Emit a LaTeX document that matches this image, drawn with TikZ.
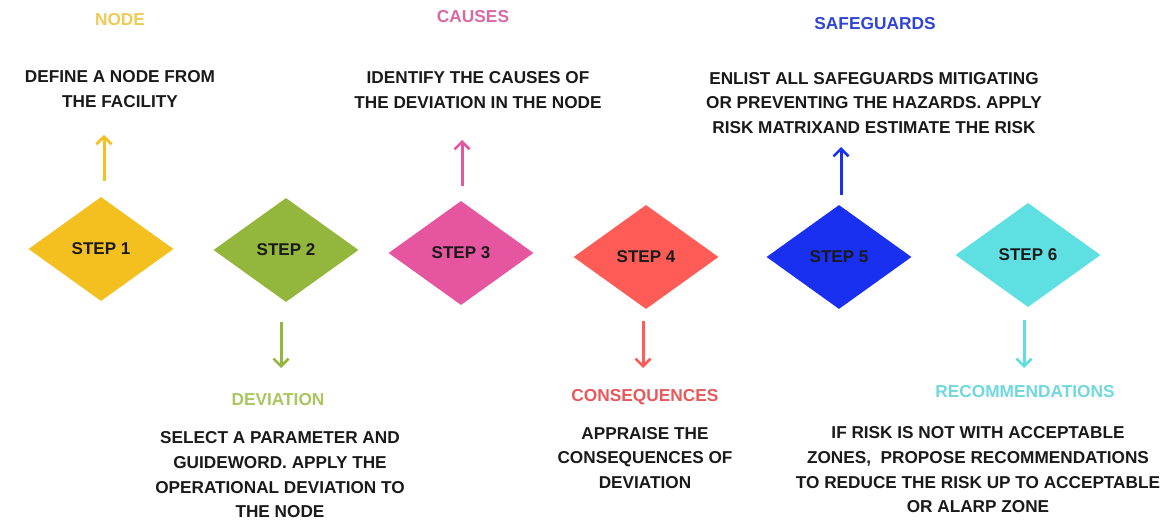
\documentclass[tikz,border=0pt]{standalone}
\usepackage{fontspec}
\setmainfont{Liberation Sans}
\usetikzlibrary{shapes.geometric,arrows.meta}
\definecolor{c1}{HTML}{F4C020}
\definecolor{c1l}{HTML}{EFCB55}
\definecolor{c2}{HTML}{93B63C}
\definecolor{c2l}{HTML}{A9C75E}
\definecolor{c3}{HTML}{E6559F}
\definecolor{c3l}{HTML}{DB69A4}
\definecolor{c4}{HTML}{FF5B57}
\definecolor{c4l}{HTML}{E8595C}
\definecolor{c5}{HTML}{1A30F0}
\definecolor{c5l}{HTML}{2F45D4}
\definecolor{c6}{HTML}{5EE0E3}
\definecolor{c6l}{HTML}{70D9DE}
\definecolor{ink}{HTML}{1A1A1A}
\tikzset{
  stepbox/.style={diamond, minimum width=145pt, minimum height=104pt, inner sep=0pt,
    font=\bfseries\fontsize{17}{20}\selectfont, text=ink},
  headlbl/.style={font=\bfseries\fontsize{17.3}{20}\selectfont, inner sep=0pt},
  desc/.style={font=\bfseries\fontsize{17.2}{24.7}\selectfont, text=ink, align=center, inner sep=0pt},
  arr/.style={line width=3pt, -{Straight Barb[length=7.5pt,width=15pt,line width=2.6pt]}}
}
\begin{document}
\begin{tikzpicture}[x=1pt,y=-1pt]
\useasboundingbox[fill=white] (0,0) rectangle (1173,521);
% diamonds
\node[stepbox, fill=c1] (d1) at (101,249) {STEP 1};
\node[stepbox, fill=c2] (d2) at (286,250) {STEP 2};
\node[stepbox, fill=c3] (d3) at (461,253) {STEP 3};
\node[stepbox, fill=c4] (d4) at (646,257) {STEP 4};
\node[stepbox, fill=c5] (d5) at (839,257) {STEP 5};
\node[stepbox, fill=c6] (d6) at (1028,255) {STEP 6};
% headings
\node[headlbl, text=c1l] (h1) at (120,20) {NODE};
\node[headlbl, text=c3l] (h3) at (473,17) {CAUSES};
\node[headlbl, text=c5l] (h5) at (875,24) {SAFEGUARDS};
\node[headlbl, text=c2l] (h2) at (278,400) {DEVIATION};
\node[headlbl, text=c4l] (h4) at (645,397) {CONSEQUENCES};
\node[headlbl, text=c6l] (h6) at (1025,392) {RECOMMENDATIONS};
% descriptions
\node[desc] (t1) at (120,89) {DEFINE A NODE FROM\\THE FACILITY};
\node[desc] (t3) at (478,90) {IDENTIFY THE CAUSES OF\\THE DEVIATION IN THE NODE};
\node[desc] (t5) at (874,103) {ENLIST ALL SAFEGUARDS MITIGATING\\OR PREVENTING THE HAZARDS. APPLY\\RISK MATRIXAND ESTIMATE THE RISK};
\node[desc] (t2) at (280,475) {SELECT A PARAMETER AND\\GUIDEWORD. APPLY THE\\OPERATIONAL DEVIATION TO\\THE NODE};
\node[desc] (t4) at (645,458) {APPRAISE THE\\CONSEQUENCES OF\\DEVIATION};
\node[desc] (t6) at (978,470) {IF RISK IS NOT WITH ACCEPTABLE\\ZONES,~ PROPOSE RECOMMENDATIONS\\TO REDUCE THE RISK UP TO ACCEPTABLE\\OR ALARP ZONE};
% arrows
\coordinate (a1) at (104,135);
\coordinate (a3) at (462,140);
\coordinate (a5) at (841,147);
\coordinate (a2) at (281,368);
\coordinate (a4) at (643,368);
\coordinate (a6) at (1024,368);
\draw[arr, draw=c1] (a1 |- d1.north) ++(0,-16) -- (a1);
\draw[arr, draw=c3] (a3 |- d3.north) ++(0,-15) -- (a3);
\draw[arr, draw=c5] (a5 |- d5.north) ++(0,-10) -- (a5);
\draw[arr, draw=c2] (a2 |- d2.south) ++(0,20) -- (a2);
\draw[arr, draw=c4] (a4 |- d4.south) ++(0,12) -- (a4);
\draw[arr, draw=c6] (a6 |- d6.south) ++(0,13) -- (a6);
\end{tikzpicture}
\end{document}
